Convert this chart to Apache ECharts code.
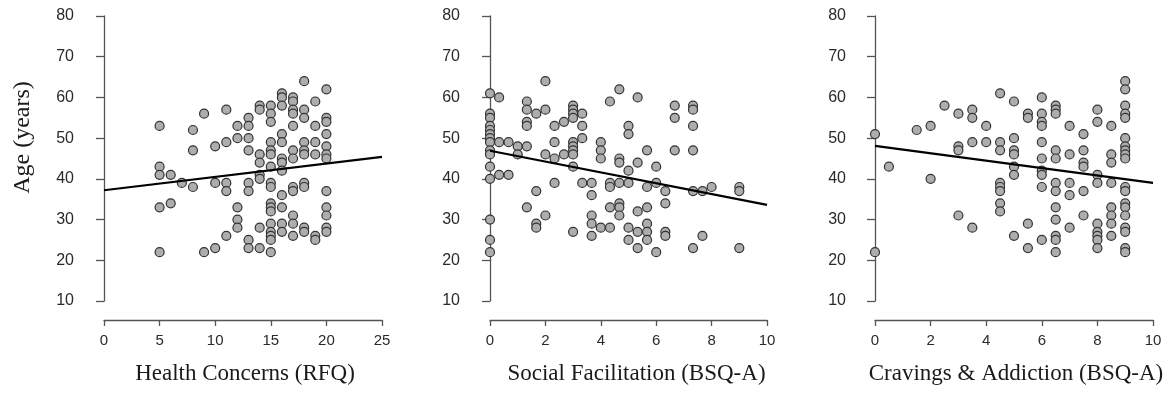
<!DOCTYPE html>
<html>
<head>
<meta charset="utf-8">
<script src="https://cdn.jsdelivr.net/npm/echarts@6/dist/echarts.min.js"></script>
<style>
  html, body { margin: 0; padding: 0; background: #fff; }
  #chart { width: 1176px; height: 393px; }
</style>
</head>
<body>
<div id="chart"></div>
<script>
const chart = echarts.init(document.getElementById("chart"));

const AXIS_TITLES = ["Health Concerns (RFQ)", "Social Facilitation (BSQ-A)", "Cravings & Addiction (BSQ-A)"];
const Y_TITLE = "Age (years)";

// [score, age]
const healthPts = [
  [5,53],[18,64],[20,62],[16,61],[16,60],[17,60],[19,59],[17,59],[14,58],[14,57],[15,58],[16,58],
  [17,57],[17,56],[18,57],[9,56],[11,57],[15,56],[15,54],[13,55],[18,55],[20,55],[20,54],[8,52],
  [12,53],[13,53],[17,53],[19,53],[16,51],[20,51],[12,50],[13,50],[11,49],[10,48],[8,47],[13,47],
  [15,49],[16,49],[18,49],[19,49],[20,48],[17,47],[18,47],[18,46],[14,46],[15,47],[15,46],[19,46],
  [20,46],[20,45],[16,45],[16,44],[17,45],[14,44],[15,43],[5,43],[5,41],[6,41],[16,42],[14,41],
  [14,40],[7,39],[8,38],[10,39],[11,39],[11,37],[13,39],[13,37],[15,39],[15,38],[16,36],[17,38],
  [17,37],[18,39],[18,38],[20,37],[5,33],[6,34],[12,33],[15,34],[15,33],[15,32],[16,33],[17,31],
  [20,33],[20,31],[12,30],[12,28],[14,28],[15,29],[15,27],[15,26],[15,25],[16,29],[16,27],[17,29],
  [17,26],[18,28],[18,27],[19,26],[19,25],[20,28],[20,27],[11,26],[13,25],[13,23],[14,23],[10,23],
  [5,22],[9,22],[15,22]
];
const socialPts = [
  [0,61],[0.33,60],[2,64],[1.33,59],[1.33,57],[1.33,54],[1.33,53],[1.67,56],[2,57],
  [0,56],[0,55],[0,53],[0,52],[0,51],[0,50],[0,49],[0,47],[0,46],[0,43],[0,40],
  [0.33,49],[0.67,49],[0.33,41],[0.67,41],[1,48],[1.33,48],[1,46],[2,46],[1.67,37],
  [2.33,53],[2.33,49],[2.33,45],[2.33,39],[2.67,54],[2.67,46],
  [3,58],[3,57],[3,56],[3,55],[3,49],[3,48],[3,47],[3,46],[3,43],
  [3.33,56],[3.33,53],[3.33,50],[3.33,39],[3.67,39],[3.67,36],
  [4,49],[4,47],[4,45],[4.33,59],[4.33,39],[4.33,38],[4.67,62],[4.67,45],[4.67,44],[4.67,39],
  [5,53],[5,51],[5,42],[5,39],[5.33,60],[5.33,44],[5.67,47],[5.67,38],[6,43],[6,39],[6.33,37],
  [6.67,58],[6.67,55],[6.67,47],[7.33,58],[7.33,57],[7.33,53],[7.33,47],[7.33,37],[7.67,37],[8,38],[9,38],[9,37],
  [1.33,33],[2,31],[1.67,29],[1.67,28],[0,30],[0,25],[0,22],[3,27],[3.67,31],[3.67,29],[3.67,26],
  [4,28],[4.33,28],[4.33,33],[4.67,34],[4.67,33],[4.67,31],[5,28],[5,25],[5.33,32],[5.33,27],[5.33,23],
  [5.67,33],[5.67,29],[5.67,27],[5.67,25],[6,22],[6.33,34],[6.33,27],[6.33,26],[7.33,23],[7.67,26],[9,23]
];
const cravingPts = [
  [0,51],[0.5,43],[1.5,52],[2,53],[2,40],[2.5,58],[3,56],[3,48],[3,47],[3.5,57],[3.5,55],[3.5,49],
  [4,53],[4,49],[4.5,61],[4.5,49],[4.5,47],[4.5,39],[4.5,38],[4.5,37],
  [5,59],[5,50],[5,47],[5,46],[5,43],[5,41],[5.5,56],[5.5,55],
  [6,60],[6,56],[6,54],[6,53],[6,49],[6,45],[6,42],[6,41],[6,38],
  [6.5,58],[6.5,57],[6.5,56],[6.5,47],[6.5,45],[6.5,39],[6.5,37],
  [7,53],[7,46],[7,39],[7,36],[7.5,51],[7.5,47],[7.5,44],[7.5,43],[7.5,37],
  [8,57],[8,54],[8,41],[8,39],[8.5,53],[8.5,46],[8.5,44],[8.5,39],
  [9,64],[9,62],[9,58],[9,56],[9,55],[9,50],[9,48],[9,47],[9,46],[9,45],[9,38],[9,37],
  [0,22],[4.5,34],[4.5,32],[3,31],[3.5,28],[5,26],[5.5,29],[5.5,23],[6,25],
  [6.5,33],[6.5,30],[6.5,26],[6.5,25],[6.5,22],[7,28],[7.5,31],
  [8,29],[8,27],[8,26],[8,25],[8,23],[8.5,33],[8.5,31],[8.5,29],[8.5,26],
  [9,34],[9,33],[9,31],[9,28],[9,27],[9,23],[9,22]
];

// fitted regression lines, end points
const healthFit = [[0, 37.2], [25, 45.4]];
const socialFit = [[0, 46.9], [10, 33.6]];
const cravingFit = [[0, 48.1], [10, 39.0]];

const X_MAX = [25, 10, 10];
const X_STEP = [5, 2, 2];

const grids = [
  { left: 104, top: 16, width: 278, height: 285 },
  { left: 490, top: 16, width: 277, height: 285 },
  { left: 875, top: 16, width: 278, height: 285 }
];

const axisGray = "#555";

const xAxes = grids.map((g, i) => ({
  gridIndex: i,
  type: "value",
  min: 0,
  max: X_MAX[i],
  interval: X_STEP[i],
  offset: 19,
  name: AXIS_TITLES[i],
  nameLocation: "middle",
  nameGap: 42,
  nameTextStyle: {
    fontFamily: "Liberation Serif",
    fontSize: 23,
    color: "#1a1a1a",
    padding: i === 1 ? [0, 0, 0, 16] : [0, 0, 0, 4]
  },
  axisLine: { lineStyle: { color: axisGray, width: 1.3 } },
  axisTick: { length: 6, lineStyle: { color: axisGray, width: 1.3 } },
  axisLabel: { margin: 13, fontFamily: "Liberation Sans", fontSize: 15, color: "#2a2a2a" },
  splitLine: { show: false }
}));

const yAxes = grids.map((g, i) => ({
  gridIndex: i,
  type: "value",
  min: 10,
  max: 80,
  interval: 10,
  offset: i === 2 ? 14 : 15,
  name: i === 0 ? Y_TITLE : "",
  nameLocation: "middle",
  nameGap: 54,
  nameTextStyle: {
    fontFamily: "Liberation Serif",
    fontSize: 24,
    color: "#1a1a1a",
    padding: [0, 0, 0, 42]
  },
  axisLine: { show: true, lineStyle: { color: axisGray, width: 1.3 } },
  axisTick: { show: true, length: 8, lineStyle: { color: axisGray, width: 1.3 } },
  axisLabel: { margin: 15, fontFamily: "Liberation Sans", fontSize: 16, color: "#2a2a2a" },
  splitLine: { show: false }
}));

const pointSets = [healthPts, socialPts, cravingPts];
const fits = [healthFit, socialFit, cravingFit];

const series = [];
pointSets.forEach((pts, i) => {
  series.push({
    type: "scatter",
    xAxisIndex: i,
    yAxisIndex: i,
    data: pts,
    symbol: "circle",
    symbolSize: 9,
    itemStyle: { color: "#adadad", borderColor: "#333", borderWidth: 1.2, opacity: 1 },
    emphasis: { disabled: true },
    z: 2
  });
  series.push({
    type: "line",
    xAxisIndex: i,
    yAxisIndex: i,
    data: fits[i],
    showSymbol: false,
    lineStyle: { color: "#000", width: 2.2 },
    emphasis: { disabled: true },
    z: 3
  });
});

chart.setOption({
  animation: false,
  grid: grids,
  xAxis: xAxes,
  yAxis: yAxes,
  series: series
});
</script>
</body>
</html>
